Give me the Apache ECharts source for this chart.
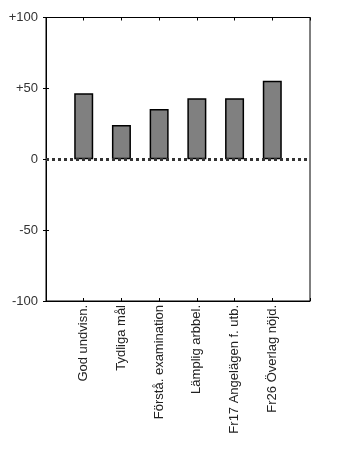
<!DOCTYPE html>
<html>
<head>
<meta charset="utf-8">
<script src="https://cdn.jsdelivr.net/npm/echarts@6/dist/echarts.min.js"></script>
<style>
  html, body { margin: 0; padding: 0; background: #fff; }
  #chart { width: 354px; height: 472px; }
</style>
</head>
<body>
<div id="chart"></div>
<script>
// kategorier och medelvärden
const categories = ['God undvisn.', 'Tydliga mål', 'Förstå. examination', 'Lämplig arbbel.', 'Fr17 Angelägen f. utb.', 'Fr26 Överlag nöjd.'];
const values = [46.6, 24.1, 35.4, 43.1, 43.1, 55.3];
const yTicks = [-100, -50, 0, 50, 100];

const chart = echarts.init(document.getElementById('chart'));

const barData = values.map((v, i) => [i + 1, v]);
const fmtY = v => (v > 0 ? '+' + v : String(v));
const catLabel = v => categories[v - 1] || '';

chart.setOption({
    animation: false,
    grid: {
        left: 46, right: 44, top: 17.5, bottom: 171,
        show: true, borderColor: '#000', borderWidth: 1
    },
    xAxis: [{
        type: 'value', min: 0, max: categories.length + 1, interval: 1,
        position: 'bottom',
        splitLine: { show: false },
        axisLine: { show: true, onZero: false, lineStyle: { color: '#000' } },
        axisTick: { show: true, inside: true, length: 3, lineStyle: { color: '#000' } },
        axisLabel: {
            rotate: 90, margin: 4, color: '#222', fontSize: 13,
            fontFamily: 'Liberation Sans, Arial, sans-serif',
            formatter: catLabel
        }
    }, {
        type: 'value', min: 0, max: categories.length + 1, interval: 1,
        position: 'top',
        splitLine: { show: false },
        axisLine: { show: true, onZero: false, lineStyle: { color: '#000' } },
        axisTick: { show: true, inside: true, length: 3, lineStyle: { color: '#000' } },
        axisLabel: { show: false }
    }],
    yAxis: [{
        type: 'value', min: yTicks[0], max: yTicks[yTicks.length - 1], interval: 50,
        position: 'left',
        splitLine: { show: false },
        axisLine: { show: true, lineStyle: { color: '#000' } },
        axisTick: { show: true, inside: true, length: 3, lineStyle: { color: '#000' } },
        axisLabel: {
            margin: 8, color: '#333', fontSize: 13,
            fontFamily: 'Liberation Sans, Arial, sans-serif',
            formatter: fmtY
        }
    }, {
        type: 'value', min: yTicks[0], max: yTicks[yTicks.length - 1], interval: 50,
        position: 'right',
        splitLine: { show: false },
        axisLine: { show: true, lineStyle: { color: '#000' } },
        axisTick: { show: true, inside: true, length: 3, lineStyle: { color: '#000' } },
        axisLabel: { show: false }
    }],
    series: [{
        type: 'bar',
        xAxisIndex: 0, yAxisIndex: 0,
        barWidth: 19,
        itemStyle: { color: '#808080', borderColor: '#000', borderWidth: 1.5 },
        data: barData,
        markLine: {
            silent: true,
            symbol: 'none',
            label: { show: false },
            lineStyle: { color: '#333', width: 3, type: [3, 3] },
            data: [{ yAxis: 0 }],
            z: 10
        }
    }]
});
</script>
</body>
</html>
